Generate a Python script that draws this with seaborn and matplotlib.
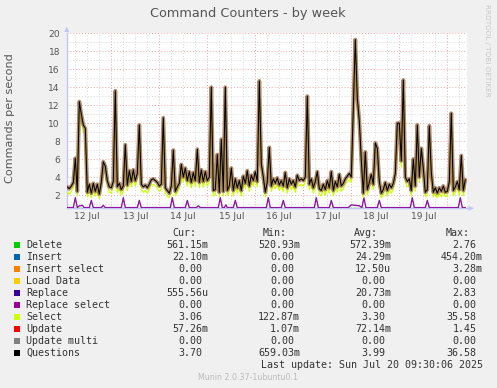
import numpy as np
import pandas as pd
import matplotlib
matplotlib.use("Agg")
import matplotlib.pyplot as plt
import seaborn as sns
from matplotlib.patches import Rectangle, Polygon

# ---------------- data ----------------
title = "Command Counters - by week"
y_label = "Commands per second"
day_labels = ["12 Jul", "13 Jul", "14 Jul", "15 Jul", "16 Jul", "17 Jul", "18 Jul", "19 Jul"]
y_tick_labels = ["2", "4", "6", "8", "10", "12", "14", "16", "18", "20"]

# hourly samples, hours since 12 Jul 00:00 (h = 2 .. 201)
questions = [
    2.9, 2.7, 3.0, 3.4, 6.1, 2.4, 12.4, 11.0, 9.8, 9.4, 2.3, 3.2, 2.2, 3.3, 2.4, 3.2, 2.1, 3.4, 5.7, 5.2, 3.6, 2.9,
    2.8, 3.5, 13.6, 2.9, 3.3, 2.6, 3.0, 7.6, 3.1, 4.7, 3.5, 4.8, 3.6, 4.4, 9.8, 3.2, 2.9, 3.1, 2.8, 3.2, 3.7, 3.8, 3.6, 3.4,
    3.0, 3.2, 10.6, 2.8, 2.5, 2.2, 3.0, 7.0, 2.4, 2.9, 3.3, 5.4, 4.0, 5.0, 3.6, 4.6, 3.4, 4.5, 3.6, 7.1, 3.4, 4.8, 3.5, 4.6,
    3.6, 4.0, 14.0, 2.5, 2.6, 6.5, 2.3, 8.2, 2.4, 14.0, 2.5, 3.0, 5.0, 2.5, 3.8, 2.8, 3.6, 2.5, 4.1, 3.3, 4.7, 3.0, 4.2, 3.6,
    4.6, 3.5, 14.7, 5.5, 4.0, 2.3, 3.5, 7.3, 3.0, 3.8, 3.3, 3.9, 3.1, 3.6, 3.0, 4.5, 2.8, 3.8, 3.2, 3.6, 2.9, 4.2, 3.6, 3.8,
    3.6, 4.0, 13.0, 3.2, 3.8, 2.8, 3.5, 4.6, 2.7, 2.5, 3.2, 2.6, 3.6, 2.8, 4.6, 2.5, 3.5, 2.9, 4.3, 3.0, 3.3, 3.8, 4.1, 4.4,
    4.0, 11.8, 19.3, 12.8, 10.3, 5.9, 2.2, 6.8, 2.6, 3.4, 4.3, 3.2, 7.8, 7.2, 3.5, 2.2, 2.6, 3.4, 2.5, 3.2, 2.8, 3.3, 4.4, 10.0,
    10.0, 5.8, 14.8, 4.0, 3.5, 3.8, 2.5, 6.0, 3.0, 9.8, 4.0, 7.2, 5.0, 2.3, 2.6, 9.7, 4.5, 2.3, 2.8, 2.2, 2.8, 2.4, 3.0, 2.3,
    2.4, 3.5, 11.1, 2.5, 2.9, 3.5, 2.6, 6.4, 2.5, 3.7,
]
select = [
    2.3, 2.1, 2.4, 2.8, 5.3, 1.9, 11.4, 10.2, 9.0, 8.7, 1.8, 2.6, 1.7, 2.7, 1.9, 2.6, 1.6, 2.8, 5.0, 4.5, 3.0, 2.3,
    2.2, 2.9, 12.6, 2.3, 2.7, 2.0, 2.4, 6.8, 2.5, 4.0, 2.9, 4.1, 3.0, 3.8, 9.0, 2.6, 2.3, 2.5, 2.2, 2.6, 3.1, 3.2, 3.0, 2.8,
    2.4, 2.6, 9.8, 2.2, 1.9, 1.7, 2.4, 6.2, 1.9, 2.3, 2.7, 4.7, 3.4, 4.3, 3.0, 3.9, 2.8, 3.8, 3.0, 6.4, 2.8, 4.1, 2.9, 3.9,
    3.0, 3.4, 13.0, 1.9, 2.0, 5.8, 1.8, 7.4, 1.9, 13.0, 1.9, 2.4, 4.3, 1.9, 3.2, 2.2, 3.0, 1.9, 3.5, 2.7, 4.0, 2.4, 3.6, 3.0,
    3.9, 2.9, 13.7, 4.8, 3.4, 1.8, 2.9, 6.6, 2.4, 3.2, 2.7, 3.3, 2.5, 3.0, 2.4, 3.9, 2.2, 3.2, 2.6, 3.0, 2.3, 3.6, 3.0, 3.2,
    3.0, 3.4, 12.0, 2.6, 3.2, 2.2, 2.9, 4.0, 2.1, 1.9, 2.6, 2.0, 3.0, 2.2, 4.0, 1.9, 2.9, 2.3, 3.7, 2.4, 2.7, 3.2, 3.5, 3.8,
    3.4, 10.6, 18.0, 11.8, 9.6, 5.2, 1.7, 6.0, 2.0, 2.8, 3.7, 2.6, 7.0, 6.5, 2.9, 1.7, 2.0, 2.8, 1.9, 2.6, 2.2, 2.7, 3.8, 9.2,
    9.2, 5.1, 13.8, 3.4, 2.9, 3.2, 1.9, 5.3, 2.4, 9.0, 3.4, 6.5, 4.4, 1.8, 2.0, 8.9, 3.9, 1.8, 2.2, 1.7, 2.2, 1.8, 2.4, 1.8,
    1.9, 2.9, 10.2, 1.9, 2.3, 2.9, 2.0, 5.7, 1.9, 3.06,
]

# replace spikes (time in hours, value)
replace_t = [2, 5, 6, 7, 8, 9.5, 10.5, 13, 14, 15, 19, 20, 21, 29, 30, 31, 37, 38, 39,
             53.5, 54.5, 55.5, 61, 62, 63, 66.5, 67.5, 68.5, 77.5, 78.5, 79.5, 80.5, 81.3, 82,
             85, 86, 87, 101.5, 102.5, 103.5, 109, 110, 111, 125.5, 126.5, 127.5, 133, 134, 135,
             142.5, 144, 146, 148, 149.3, 150.3, 151.3, 157, 158, 159, 173.5, 174.5, 175.5,
             181, 182, 183, 197.5, 198.5, 199.5, 201]
replace_v = [0, 0, 1.7, 0, 0.8, 0.85, 0, 0, 1.4, 0, 0, 0.85, 0, 0, 1.7, 0, 0, 1.4, 0,
             0, 1.7, 0, 0, 1.4, 0, 0, 0.8, 0, 0, 1.7, 0, 0, 0.9, 0,
             0, 1.4, 0, 0, 1.7, 0, 0, 1.4, 0, 0, 1.7, 0, 0, 1.4, 0,
             0, 0.9, 0.85, 0.8, 0, 1.7, 0, 0, 1.4, 0, 0, 1.7, 0,
             0, 1.4, 0, 0, 1.7, 0, 0]
delete_t = [2, 201]
delete_v = [0.56, 0.56]

legend_names = ["Delete", "Insert", "Insert select", "Load Data", "Replace",
                "Replace select", "Select", "Update", "Update multi", "Questions"]
legend_colors = ["#00cc00", "#0066b3", "#ff8000", "#ffcc00", "#330099",
                 "#990099", "#ccff00", "#ff0000", "#808080", "#000000"]
cur_vals = ["561.15m", "22.10m", "0.00", "0.00", "555.56u", "0.00", "3.06", "57.26m", "0.00", "3.70"]
min_vals = ["520.93m", "0.00", "0.00", "0.00", "0.00", "0.00", "122.87m", "1.07m", "0.00", "659.03m"]
avg_vals = ["572.39m", "24.29m", "12.50u", "0.00", "20.73m", "0.00", "3.30", "72.14m", "0.00", "3.99"]
max_vals = ["2.76", "454.20m", "3.28m", "0.00", "2.83", "0.00", "35.58", "1.45", "0.00", "36.58"]
col_headers = ["Cur:", "Min:", "Avg:", "Max:"]
last_update = "Last update: Sun Jul 20 09:30:06 2025"
munin_version = "Munin 2.0.37-1ubuntu0.1"
watermark = "RRDTOOL / TOBI OETIKER"

# ---------------- figure ----------------
sns.set_theme(style="white")
plt.rcParams['font.family'] = ['DejaVu Sans']

W, H = 497, 388
fig = plt.figure(figsize=(W / 100, H / 100), dpi=100, facecolor="#f0f0f0")


def fx(px):
    return px / W


def fy(py):
    return 1 - py / H


AX_L, AX_R, AX_T, AX_B = 66.7, 466.7, 33.3, 208.3
ax = fig.add_axes([fx(AX_L), fy(AX_B), (AX_R - AX_L) / W, (AX_B - AX_T) / H])
ax.set_facecolor("white")
Y0, Y1 = 0.52, 20.0
X0, X1 = 1.7, 201.7
ax.set_xlim(X0, X1)
ax.set_ylim(Y0, Y1)

# grid
grid_minor = "#d8d8d8"
grid_major = "#efa8a8"
dot = (0, (1, 2))
for h in range(6, 202, 6):
    if h % 24:
        ax.axvline(h, color=grid_minor, lw=0.7, ls=dot, zorder=0.5)
for v in range(1, 21, 2):
    ax.axhline(v, color=grid_minor, lw=0.7, ls=dot, zorder=0.5)
for h in range(24, 202, 24):
    ax.axvline(h, color=grid_major, lw=0.7, ls=dot, zorder=0.6)
for v in range(2, 21, 2):
    ax.axhline(v, color=grid_major, lw=0.7, ls=dot, zorder=0.6)

hours = np.arange(2, 2 + len(questions))
df = pd.DataFrame({"hour": hours, "Questions": questions, "Select": select})

floor = Y0 + 0.08
sns.lineplot(x=delete_t, y=delete_v, ax=ax, color="#00cc00", lw=1.0, zorder=2)
sns.lineplot(x=replace_t, y=np.maximum(np.array(replace_v), floor), ax=ax,
             color="#8c1a9c", lw=1.0, zorder=3)
sns.lineplot(data=df, x="hour", y="Select", ax=ax, color="#ccff00", lw=0.9, zorder=3)
sns.lineplot(data=df, x="hour", y="Questions", ax=ax, color="#9c7048", lw=2.8,
             alpha=0.8, zorder=4)
sns.lineplot(data=df, x="hour", y="Questions", ax=ax, color="#000000", lw=0.75, zorder=5)

ax.set_xlabel("")
ax.set_ylabel("")
ax.set_xticks([12 + 24 * i for i in range(len(day_labels))])
ax.set_xticklabels(day_labels)
ax.set_yticks([2 * (i + 1) for i in range(len(y_tick_labels))])
ax.set_yticklabels(y_tick_labels)
ax.tick_params(axis="both", length=0, labelsize=6.6, colors="#555555")
ax.tick_params(axis="y", pad=4.8)
ax.tick_params(axis="x", pad=3.0)

axis_col = "#c4c4f4"
for s in ["top", "right"]:
    ax.spines[s].set_visible(False)
for s in ["left", "bottom"]:
    ax.spines[s].set_color(axis_col)
    ax.spines[s].set_linewidth(1.0)

# axis arrows
fig.add_artist(Polygon([(fx(64.2), fy(32.0)), (fx(69.2), fy(32.0)), (fx(66.7), fy(26.5))],
                       closed=True, transform=fig.transFigure, color=axis_col, lw=0))
fig.add_artist(plt.Line2D([fx(AX_R), fx(469)], [fy(AX_B), fy(AX_B)], transform=fig.transFigure,
                          color=axis_col, lw=1.0))
fig.add_artist(Polygon([(fx(468.5), fy(205.8)), (fx(468.5), fy(210.8)), (fx(474), fy(AX_B))],
                       closed=True, transform=fig.transFigure, color=axis_col, lw=0))

# titles
fig.text(fx(248), fy(13.5), title, ha="center", va="center", fontsize=9.3, color="#555555")
fig.text(fx(10.5), fy(118), y_label, ha="center", va="center", rotation=90,
         fontsize=8.1, color="#555555")
fig.text(fx(487), fy(4), watermark, ha="center", va="top", rotation=270,
         fontsize=5.2, color="#c8c8c8")

# legend
mono = "DejaVu Sans Mono"
lfs = 7.17
cw = 6.0
txt_col = "#333333"
col_ends = [208.0, 300.0, 391.0, 482.7]
hdr_ends = [196.0, 287.0, 378.0, 470.0]
row0 = 244.7
for j, hname in enumerate(col_headers):
    fig.text(fx(hdr_ends[j] - len(hname) * cw), fy(232.7), hname, ha="left", va="center",
             fontsize=lfs, family=mono, color=txt_col)
cols = [cur_vals, min_vals, avg_vals, max_vals]
for i, name in enumerate(legend_names):
    yc = row0 + 12 * i
    fig.add_artist(Rectangle((fx(14), fy(yc + 3)), 6 / W, 6 / H, transform=fig.transFigure,
                             color=legend_colors[i], lw=0))
    fig.text(fx(26.3), fy(yc), name, ha="left", va="center", fontsize=lfs,
             family=mono, color=txt_col)
    for j, col in enumerate(cols):
        s = col[i]
        end = col_ends[j] if s[-1].isalpha() else col_ends[j] - cw
        fig.text(fx(end - len(s) * cw), fy(yc), s, ha="left", va="center",
                 fontsize=lfs, family=mono, color=txt_col)

fig.text(fx(482.7 - len(last_update) * cw), fy(364.7), last_update, ha="left", va="center",
         fontsize=lfs, family=mono, color=txt_col)
fig.text(fx(248.5), fy(377.5), munin_version, ha="center", va="center", fontsize=5.7,
         color="#bbbbbb")

fig.savefig("out.png", dpi=100, facecolor=fig.get_facecolor())
